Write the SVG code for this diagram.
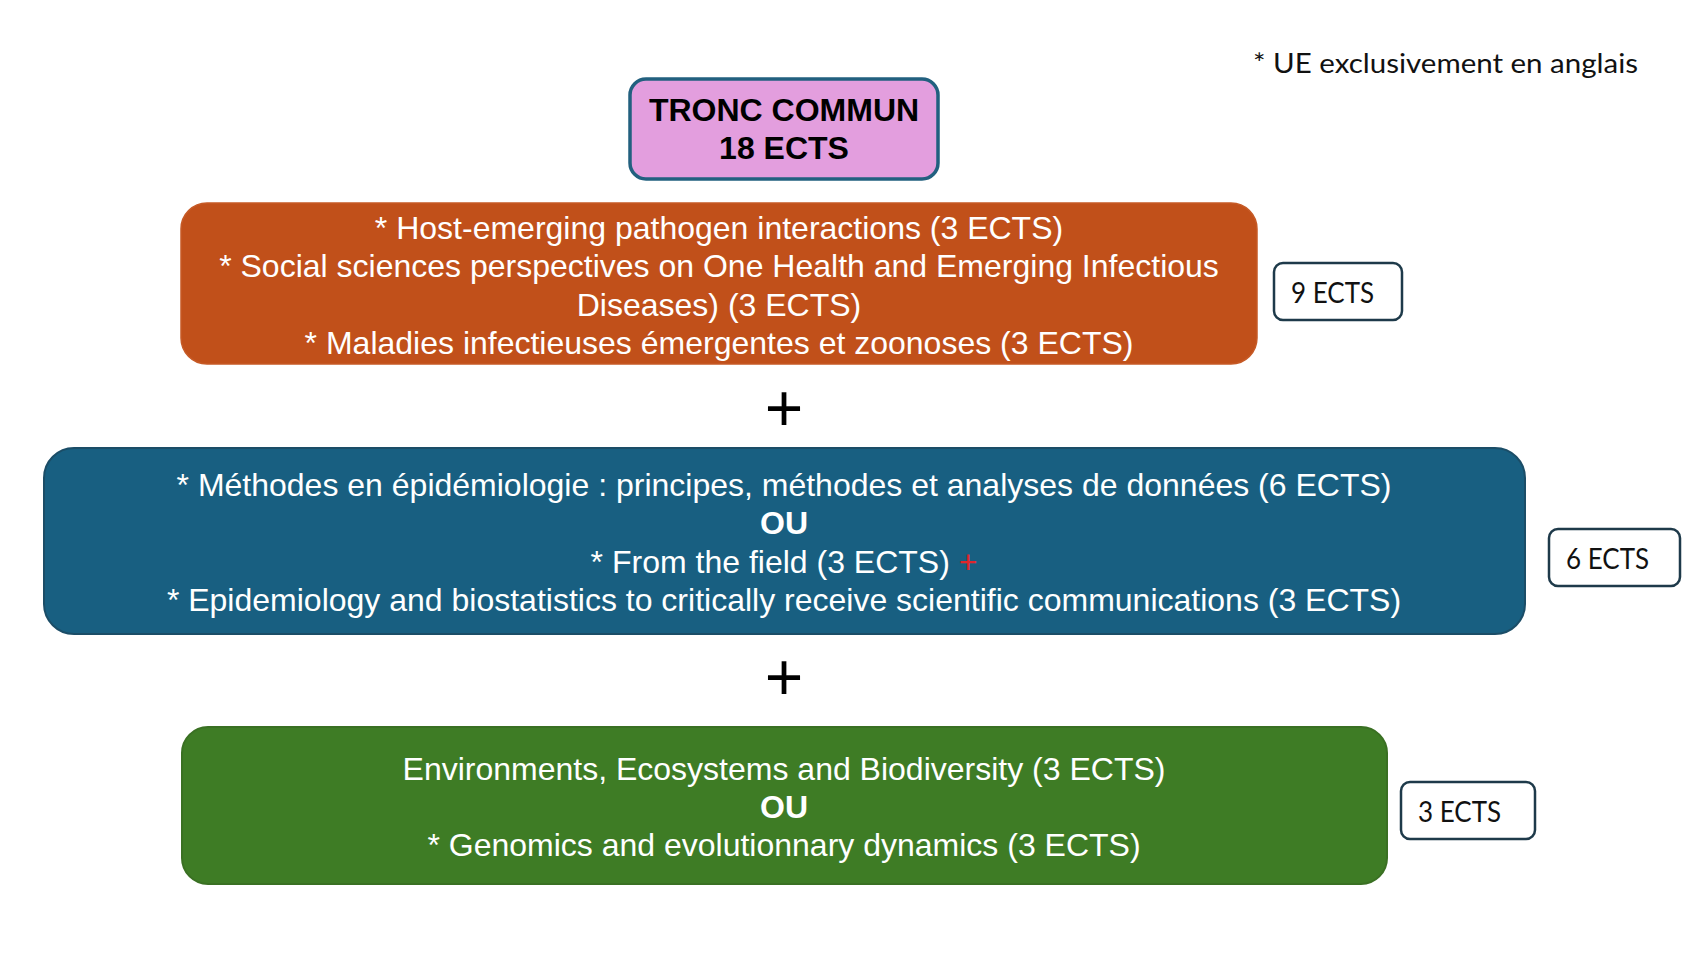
<svg xmlns="http://www.w3.org/2000/svg" width="1707" height="960" viewBox="0 0 1707 960">
<style>
.box text{font-family:"Liberation Sans",Arial,sans-serif;font-size:32px;fill:#ffffff;text-anchor:middle}
.b{font-weight:bold}
.ects rect{fill:#ffffff;stroke:#1e3a4a;stroke-width:2.5}
.ects text{font-family:Lato,"Open Sans",sans-serif;font-size:29px;fill:#111111}
.plus{font-family:"Liberation Sans",Arial,sans-serif;font-size:66px;fill:#000;text-anchor:middle}
</style>
<rect width="1707" height="960" fill="#ffffff"/>
<text x="1253" y="73" font-family="Lato,'Open Sans',sans-serif" font-size="26" fill="#111" textLength="385" lengthAdjust="spacingAndGlyphs">* UE exclusivement en anglais</text>

<g id="tronc" class="box">
<rect x="630" y="79" width="308" height="100" rx="16" fill="#e39ede" stroke="#22607f" stroke-width="3.5"/>
<text x="784" y="121" class="b" style="fill:#000">TRONC COMMUN</text>
<text x="784" y="159" class="b" style="fill:#000">18 ECTS</text>
</g>

<g id="ue-orange" class="box">
<rect x="181" y="203" width="1076" height="161" rx="26" fill="#c1501a" stroke="#c65a26" stroke-width="1.5"/>
<text x="719" y="239">* Host-emerging pathogen interactions (3 ECTS)</text>
<text x="719" y="277">* Social sciences perspectives on One Health and Emerging Infectious</text>
<text x="719" y="315.5">Diseases) (3 ECTS)</text>
<text x="719" y="354">* Maladies infectieuses émergentes et zoonoses (3 ECTS)</text>
</g>

<g id="ects9" class="ects">
<rect x="1274" y="263" width="128" height="57" rx="9"/>
<text x="1291" y="303" textLength="83" lengthAdjust="spacingAndGlyphs">9 ECTS</text>
</g>

<g id="ue-blue" class="box">
<rect x="44" y="448" width="1481" height="186" rx="30" fill="#185f81" stroke="#1b4d67" stroke-width="2"/>
<text x="784" y="495.5">* Méthodes en épidémiologie : principes, méthodes et analyses de données (6 ECTS)</text>
<text x="784" y="534" class="b">OU</text>
<text x="784" y="572.5">* From the field (3 ECTS) <tspan style="fill:#e0262b">+</tspan></text>
<text x="784" y="610.5">* Epidemiology and biostatistics to critically receive scientific communications (3 ECTS)</text>
</g>

<g id="ects6" class="ects">
<rect x="1549" y="529" width="131" height="57" rx="9"/>
<text x="1566" y="569" textLength="83" lengthAdjust="spacingAndGlyphs">6 ECTS</text>
</g>

<g id="ue-green" class="box">
<rect x="182" y="727" width="1205" height="157" rx="26" fill="#3e7c25" stroke="#3a7023" stroke-width="2"/>
<text x="784" y="780">Environments, Ecosystems and Biodiversity (3 ECTS)</text>
<text x="784" y="818" class="b">OU</text>
<text x="784" y="856">* Genomics and evolutionnary dynamics (3 ECTS)</text>
</g>

<g id="ects3" class="ects">
<rect x="1401" y="782" width="134" height="57" rx="9"/>
<text x="1418" y="822" textLength="83" lengthAdjust="spacingAndGlyphs">3 ECTS</text>
</g>

<g id="connectors">
<text class="plus" x="784" y="431">+</text>
<text class="plus" x="784" y="700">+</text>
</g>
</svg>
